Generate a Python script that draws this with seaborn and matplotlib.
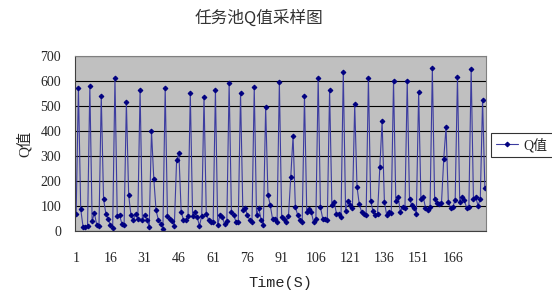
import matplotlib
matplotlib.use("Agg")
import matplotlib.pyplot as plt
import seaborn as sns
import pandas as pd
import numpy as np

title = "任务池Q值采样图"
x_label = "Time(S)"
y_label = "Q值"
series_name = "Q值"

q_values = [
    67, 571, 88, 18, 15, 22, 581, 40, 72, 25,
    20, 540, 128, 70, 48, 24, 13, 613, 61, 64,
    30, 24, 517, 144, 64, 44, 67, 48, 564, 45,
    65, 45, 17, 400, 210, 83, 45, 30, 10, 573,
    60, 49, 40, 20, 284, 311, 77, 44, 44, 60,
    551, 60, 77, 57, 20, 60, 535, 70, 44, 37,
    35, 564, 24, 64, 57, 27, 40, 593, 77, 64,
    37, 37, 553, 84, 91, 64, 44, 37, 575, 64,
    91, 44, 24, 496, 144, 104, 49, 49, 37, 597,
    57, 48, 37, 61, 217, 381, 98, 64, 44, 35,
    541, 77, 88, 75, 35, 50, 614, 95, 49, 48,
    44, 564, 104, 117, 70, 70, 55, 637, 81, 120,
    104, 93, 507, 177, 107, 77, 70, 66, 613, 120,
    80, 66, 70, 257, 440, 117, 64, 77, 73, 600,
    120, 137, 77, 97, 91, 600, 128, 104, 93, 70,
    555, 128, 137, 93, 84, 97, 651, 127, 111, 107,
    111, 290, 417, 117, 93, 97, 124, 617, 117, 137,
    124, 93, 97, 648, 128, 137, 101, 128, 524, 171,
]
time_s = list(range(1, len(q_values) + 1))
x_tick_labels = [str(t) for t in range(1, len(q_values) + 1, 15)]
y_ticks = [0, 100, 200, 300, 400, 500, 600, 700]

df = pd.DataFrame({"Time": time_s, "Q": q_values})

sns.set_style("white")
plt.rcParams["font.family"] = ["Liberation Serif", "Noto Sans CJK SC", "DejaVu Sans"]

fig = plt.figure(figsize=(5.52, 2.96), dpi=100)
ax = fig.add_axes([75 / 552, 1 - 231 / 296, 411 / 552, 175 / 296])
ax.set_facecolor("#C0C0C0")

sns.lineplot(data=df, x="Time", y="Q", ax=ax, color="#3C3CA0", linewidth=0.8,
             marker="D", markersize=2.4, markeredgecolor="#000080",
             markerfacecolor="#000080", label=series_name, legend=False)

ax.set_xlim(0.5, len(q_values) + 0.5)
ax.set_ylim(0, 700)
ax.set_yticks(y_ticks)
ax.set_yticklabels([str(v) for v in y_ticks], fontsize=10)
ax.set_xticks([int(t) for t in x_tick_labels])
ax.set_xticklabels(x_tick_labels, fontsize=10)
ax.set_xticks(np.arange(0.5, len(q_values) + 1, 1), minor=True)
ax.tick_params(axis="x", which="major", length=0, pad=15)
ax.tick_params(axis="x", which="minor", length=3.5, width=0.6, direction="out", color="#404040")
ax.tick_params(axis="y", which="major", length=4, width=0.8, direction="out", pad=6)
ax.grid(axis="y", color="black", linewidth=0.8)
ax.grid(axis="x", visible=False)
ax.set_axisbelow(True)
for s in ["top", "right"]:
    ax.spines[s].set_color("#808080")
    ax.spines[s].set_linewidth(0.8)
for s in ["left", "bottom"]:
    ax.spines[s].set_color("#404040")
    ax.spines[s].set_linewidth(0.8)

ax.set_xlabel(x_label, fontsize=11, family=["Liberation Mono", "Noto Sans CJK SC"], labelpad=8)
ax.set_ylabel(y_label, fontsize=11, family=["Liberation Serif", "Noto Sans CJK SC"], labelpad=6)

fig.text(259 / 552, 1 - 18 / 296, title, fontsize=12, ha="center", va="center",
         color="#333333", family=["Noto Sans CJK SC", "DejaVu Sans"])

handles, labels = ax.get_legend_handles_labels()
leg = fig.legend(handles, labels, loc="center left", bbox_to_anchor=(491 / 552, 1 - 145 / 296),
                 frameon=True, fancybox=False, fontsize=10, handlelength=1.6,
                 borderpad=0.35, handletextpad=0.4, borderaxespad=0)
leg.get_frame().set_edgecolor("black")
leg.get_frame().set_linewidth(0.8)
for t in leg.get_texts():
    t.set_family(["Liberation Serif", "Noto Sans CJK SC"])

fig.savefig("out.png", dpi=100, facecolor="white")
